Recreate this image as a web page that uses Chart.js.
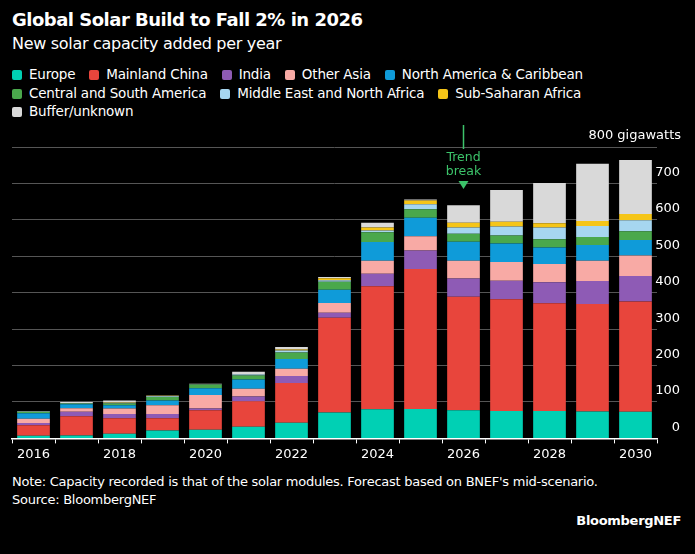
<!DOCTYPE html>
<html>
<head>
<meta charset="utf-8">
<script src="https://cdn.jsdelivr.net/npm/chart.js@4.4.1/dist/chart.umd.min.js"></script>
<style>
  body { margin: 0; background: #000; color: #fff; font-family: "DejaVu Sans", sans-serif; }
  #wrap { position: relative; width: 695px; height: 554px; overflow: hidden; }
  .title { position: absolute; left: 12px; top: 9px; font-size: 18px; font-weight: bold; letter-spacing: -0.5px; }
  .sub { position: absolute; left: 12px; top: 34px; font-size: 16px; letter-spacing: -0.3px; }
  .legend { position: absolute; left: 12px; top: 65px; width: 680px; font-size: 13.5px; letter-spacing: -0.2px; }
  .legend span { display: inline-block; margin-right: 14px; line-height: 18.5px; white-space: nowrap; }
  .legend i { display: inline-block; width: 10px; height: 10px; border-radius: 2px; margin-right: 7px; vertical-align: -1px; }
  #chartBox { position: absolute; left: 0; top: 125px; width: 695px; height: 340px; }
  .note { position: absolute; left: 12px; top: 473px; font-size: 13px; letter-spacing: -0.25px; line-height: 18px; }
  .brand { position: absolute; right: 14px; top: 513px; font-size: 13px; font-weight: bold; letter-spacing: -0.3px; }
</style>
</head>
<body>
<div id="wrap">
  <div class="title">Global Solar Build to Fall 2% in 2026</div>
  <div class="sub">New solar capacity added per year</div>
  <div class="legend" id="legend"></div>
  <div id="chartBox"><canvas id="chart"></canvas></div>
  <div class="note">Note: Capacity recorded is that of the solar modules. Forecast based on BNEF's mid-scenario.<br>Source: BloombergNEF</div>
  <div class="brand">BloombergNEF</div>
</div>
<script>
// Tahun dan nilai (GW) per wilayah
const years = ['2016','2017','2018','2019','2020','2021','2022','2023','2024','2025','2026','2027','2028','2029','2030'];
const europe        = [7, 8, 13, 22, 24, 32, 43, 71, 80, 81, 77, 75, 75, 74, 73];
const mainlandChina = [29, 53, 42, 33, 53, 70, 109, 260, 338, 384, 312, 307, 296, 295, 303];
const india         = [6, 12, 12, 12, 5, 13, 19, 14, 34, 51, 50, 51, 58, 63, 70];
const otherAsia     = [12, 10, 15, 24, 37, 21, 20, 27, 36, 39, 49, 51, 50, 56, 56];
const northAmerica  = [15, 11, 9, 13, 19, 26, 27, 36, 51, 51, 52, 51, 45, 43, 43];
const centralSouth  = [4, 2, 5, 10, 10, 11, 18, 22, 27, 23, 22, 22, 23, 22, 24];
const middleEast    = [1, 1, 2, 2, 1, 3, 5, 4, 5, 14, 17, 25, 32, 30, 30];
const subSaharan    = [0, 0, 1, 1, 0, 1, 3, 6, 8, 10, 13, 13, 12, 14, 17];
const buffer        = [1, 3, 5, 1, 1, 6, 7, 3, 13, 3, 48, 87, 110, 157, 148];
const yTicks = [0, 100, 200, 300, 400, 500, 600, 700, 800];

const series = [
    { label: 'Europe', data: europe, color: '#00d0b4' },
    { label: 'Mainland China', data: mainlandChina, color: '#e8453c' },
    { label: 'India', data: india, color: '#8e5bb5' },
    { label: 'Other Asia', data: otherAsia, color: '#f8aaa5' },
    { label: 'North America & Caribbean', data: northAmerica, color: '#0f9bd9' },
    { label: 'Central and South America', data: centralSouth, color: '#4aa84c' },
    { label: 'Middle East and North Africa', data: middleEast, color: '#a6d6f0' },
    { label: 'Sub-Saharan Africa', data: subSaharan, color: '#f5c518' },
    { label: 'Buffer/unknown', data: buffer, color: '#d9d9d9' }
];

// Legenda HTML
const legendEl = document.getElementById('legend');
series.forEach(s => {
    const span = document.createElement('span');
    span.innerHTML = '<i style="background:' + s.color + '"></i>' + s.label;
    legendEl.appendChild(span);
});

// Label sumbu kanan + anotasi "Trend break"
const overlayPlugin = {
    id: 'overlay',
    afterDraw(chart) {
        const { ctx, scales } = chart;
        const y = scales.y, x = scales.x;
        ctx.save();
        ctx.fillStyle = '#fff';
        ctx.font = '13px "DejaVu Sans", sans-serif';
        ctx.textAlign = 'right';
        ctx.textBaseline = 'middle';
        yTicks.forEach(v => {
            const py = y.getPixelForValue(v) - 11;
            ctx.fillText(v === 800 ? '800 gigawatts' : String(v), v === 800 ? 681 : 680, py);
        });
        // anotasi
        const ax = x.getPixelForValue(10);
        ctx.strokeStyle = '#3cc36a';
        ctx.fillStyle = '#3cc36a';
        ctx.lineWidth = 1.5;
        ctx.beginPath();
        ctx.moveTo(ax, 0);
        ctx.lineTo(ax, 24);
        ctx.stroke();
        ctx.textAlign = 'center';
        ctx.font = '12.5px "DejaVu Sans", sans-serif';
        ctx.fillText('Trend', ax, 33);
        ctx.fillText('break', ax, 47);
        ctx.beginPath();
        ctx.moveTo(ax - 5, 56);
        ctx.lineTo(ax + 5, 56);
        ctx.lineTo(ax, 64);
        ctx.closePath();
        ctx.fill();
        ctx.restore();
    }
};

new Chart(document.getElementById('chart'), {
    type: 'bar',
    data: {
        labels: years,
        datasets: series.map(s => ({
            label: s.label,
            data: s.data,
            backgroundColor: s.color,
            borderWidth: 0,
            categoryPercentage: 0.76,
            barPercentage: 1
        }))
    },
    options: {
        responsive: true,
        maintainAspectRatio: false,
        animation: false,
        layout: { padding: { top: 22, left: 12, right: 38 } },
        plugins: { legend: { display: false }, tooltip: { enabled: false } },
        scales: {
            x: {
                stacked: true,
                grid: { drawOnChartArea: false, drawTicks: true, tickLength: 5, color: '#fff' },
                border: { color: '#fff', width: 1.5 },
                ticks: {
                    color: '#fff',
                    autoSkip: false,
                    maxRotation: 0,
                    font: { family: '"DejaVu Sans", sans-serif', size: 13 },
                    callback: (v, i) => (i % 2 === 0 ? years[i] : '')
                }
            },
            y: {
                stacked: true,
                position: 'right',
                min: 0,
                max: 800,
                afterBuildTicks: axis => { axis.ticks = yTicks.map(v => ({ value: v })); },
                grid: { color: '#555', drawTicks: false },
                border: { display: false },
                ticks: { display: false }
            }
        }
    },
    plugins: [overlayPlugin]
});
</script>
</body>
</html>
